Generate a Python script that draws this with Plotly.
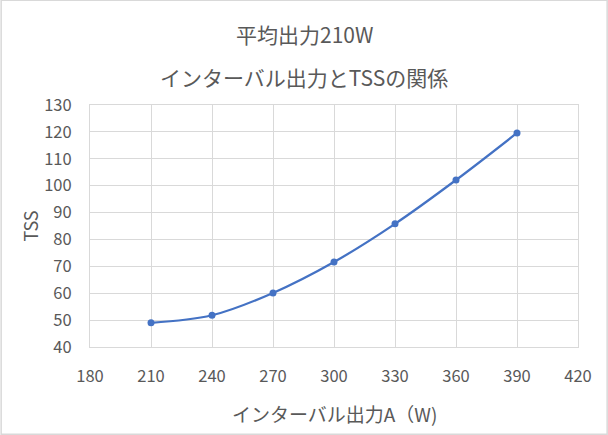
import plotly.graph_objects as go

interval_power = [210, 240, 270, 300, 330, 360, 390]
tss = [49.0, 51.8, 60.1, 71.6, 85.8, 102.1, 119.6]
x_ticks = [180, 210, 240, 270, 300, 330, 360, 390, 420]
y_ticks = [40, 50, 60, 70, 80, 90, 100, 110, 120, 130]
title_line1 = "平均出力210W"
title_line2 = "インターバル出力とTSSの関係"
x_title = "インターバル出力A（W)"
y_title = "TSS"

FONT = "Noto Sans CJK JP, Noto Sans, sans-serif"
GRAY = "#595959"
GRID = "#d9d9d9"

W, H = 608, 435
ml, mr, mt, mb = 89.5, 29.7, 105.3, 87.7
pw, ph = W - ml - mr, H - mt - mb

def py(px_from_top):
    return (H - mb - px_from_top) / ph

def px(px_from_left):
    return (px_from_left - ml) / pw

fig = go.Figure()
fig.add_trace(go.Scatter(
    x=interval_power, y=tss, mode="lines+markers",
    line=dict(color="#4472C4", width=2.25, shape="spline", smoothing=1),
    marker=dict(color="#4472C4", size=7),
    showlegend=False, hoverinfo="x+y",
))

fig.update_layout(
    width=W, height=H,
    margin=dict(l=ml, r=mr, t=mt, b=mb, autoexpand=False),
    paper_bgcolor="white", plot_bgcolor="white",
    font=dict(family=FONT, color=GRAY, size=16),
    xaxis=dict(range=[180, 420], tickvals=x_ticks, ticktext=[str(v) for v in x_ticks],
               showgrid=True, gridcolor=GRID, gridwidth=1, zeroline=False,
               showline=True, linecolor=GRID, linewidth=1, mirror=True,
               ticks="", ticklabelstandoff=14,
               tickfont=dict(family=FONT, size=16.5, color=GRAY), automargin=False),
    yaxis=dict(range=[40, 130], tickvals=y_ticks, ticktext=[str(v) for v in y_ticks],
               showgrid=True, gridcolor=GRID, gridwidth=1, zeroline=False,
               showline=True, linecolor=GRID, linewidth=1, mirror=True,
               ticks="", ticklabelstandoff=14,
               tickfont=dict(family=FONT, size=16.5, color=GRAY), automargin=False),
    annotations=[
        dict(text=title_line1, xref="paper", yref="paper", x=px(304), y=py(34),
             xanchor="center", yanchor="middle", showarrow=False,
             font=dict(family=FONT, size=21, color=GRAY)),
        dict(text=title_line2, xref="paper", yref="paper", x=px(304), y=py(77.5),
             xanchor="center", yanchor="middle", showarrow=False,
             font=dict(family=FONT, size=21, color=GRAY)),
        dict(text=x_title, xref="paper", yref="paper", x=0.5, y=py(413.6),
             xanchor="center", yanchor="middle", showarrow=False,
             font=dict(family=FONT, size=19, color=GRAY)),
        dict(text=y_title, xref="paper", yref="paper", x=px(29), y=0.5,
             xanchor="center", yanchor="middle", showarrow=False, textangle=-90,
             font=dict(family=FONT, size=18, color=GRAY)),
    ],
    shapes=[dict(type="rect", xref="paper", yref="paper",
                 x0=px(0.5), x1=px(W - 0.5), y0=py(H - 0.5), y1=py(0.5),
                 line=dict(color=GRID, width=1.5), fillcolor="rgba(0,0,0,0)", layer="below")],
)

fig.write_html("out.html", config={"displayModeBar": False},
               post_script="document.body.style.margin='0';document.body.style.overflow='hidden';")
